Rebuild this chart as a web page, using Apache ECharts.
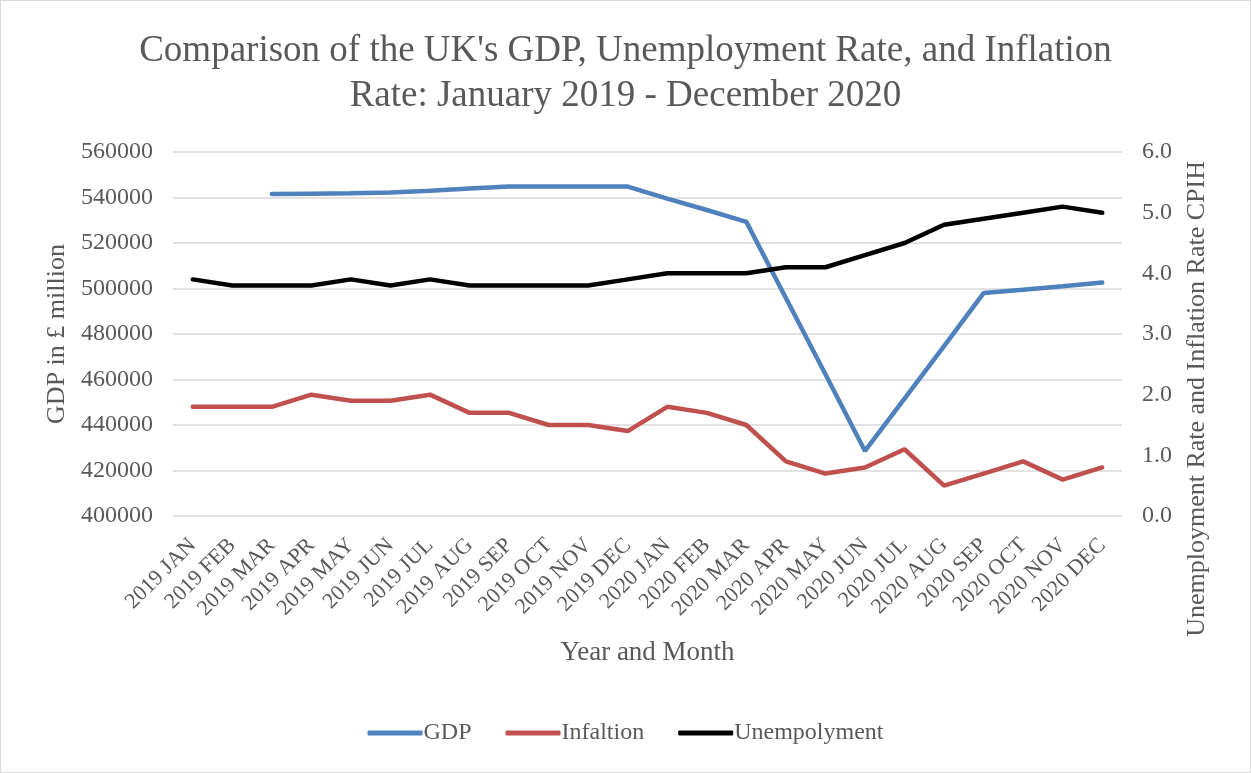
<!DOCTYPE html>
<html>
<head>
<meta charset="utf-8">
<script src="https://cdn.jsdelivr.net/npm/echarts@6/dist/echarts.min.js"></script>
<style>
html,body{margin:0;padding:0;background:#fff;}
#c{width:1251px;height:773px;box-sizing:border-box;border:1px solid #d9d9d9;}
</style>
</head>
<body>
<div id="c"></div>
<script>
const categories = ['2019 JAN','2019 FEB','2019 MAR','2019 APR','2019 MAY','2019 JUN','2019 JUL','2019 AUG','2019 SEP','2019 OCT','2019 NOV','2019 DEC',
  '2020 JAN','2020 FEB','2020 MAR','2020 APR','2020 MAY','2020 JUN','2020 JUL','2020 AUG','2020 SEP','2020 OCT','2020 NOV','2020 DEC'];
const gdp = [null,null,541500,541700,541900,542200,543000,544000,544800,544800,544800,544800,
  539500,534500,529300,495800,462300,428600,451600,474700,498000,499500,501000,502600];
const inflation = [1.8,1.8,1.8,2.0,1.9,1.9,2.0,1.7,1.7,1.5,1.5,1.4,
  1.8,1.7,1.5,0.9,0.7,0.8,1.1,0.5,0.7,0.9,0.6,0.8];
const unemployment = [3.9,3.8,3.8,3.8,3.9,3.8,3.9,3.8,3.8,3.8,3.8,3.9,
  4.0,4.0,4.0,4.1,4.1,4.3,4.5,4.8,4.9,5.0,5.1,5.0];
const titleText = "Comparison of the UK's GDP, Unemployment Rate, and Inflation\nRate: January 2019 - December 2020";
const leftAxisName = 'GDP in £ million';
const rightAxisName = 'Unemployment Rate and Inflation Rate CPIH';
const xAxisName = 'Year and Month';

const FONT = '"Liberation Serif", "Times New Roman", serif';
const TXT = '#595959';
const chart = echarts.init(document.getElementById('c'));
chart.setOption({
  animation: false,
  backgroundColor: '#fff',
  textStyle: {fontFamily: FONT},
  title: {
    text: titleText, left: 'center', top: 23,
    textStyle: {fontFamily: FONT, fontSize: 37, fontWeight: 'normal', color: TXT, lineHeight: 45}
  },
  grid: {left: 172, right: 128, top: 151, bottom: 256},
  legend: {
    top: 715, left: 'center', itemWidth: 55, itemHeight: 5, itemGap: 34, icon: 'roundRect',
    textStyle: {fontFamily: FONT, fontSize: 24, color: TXT, padding: [0,0,0,-4]},
    data: ['GDP','Infaltion','Unempolyment']
  },
  graphic: [{
    type: 'text', left: 1183, top: 160,
    rotation: Math.PI/2,
    style: {text: rightAxisName, fontFamily: FONT, fontSize: 26, fill: TXT}
  }],
  xAxis: {
    type: 'category', data: categories, boundaryGap: true,
    name: xAxisName, nameLocation: 'middle', nameGap: 123,
    nameTextStyle: {fontFamily: FONT, fontSize: 27, color: TXT},
    axisLine: {show: false}, axisTick: {show: false},
    axisLabel: {rotate: 45, interval: 0, margin: 26, fontFamily: FONT, fontSize: 22, color: TXT}
  },
  yAxis: [{
    type: 'value', min: 400000, max: 560000, interval: 20000,
    name: leftAxisName, nameLocation: 'middle', nameGap: 102,
    nameTextStyle: {fontFamily: FONT, fontSize: 26, color: TXT},
    axisLine: {show: false}, axisTick: {show: false},
    axisLabel: {margin: 20, fontFamily: FONT, fontSize: 24, color: TXT, formatter: v => String(v)},
    splitLine: {lineStyle: {color: '#d9d9d9', width: 1.5}}
  },{
    type: 'value', min: 0, max: 6, interval: 1, position: 'right',
    axisLine: {show: false}, axisTick: {show: false},
    axisLabel: {margin: 20, fontFamily: FONT, fontSize: 24, color: TXT, formatter: v => v.toFixed(1)},
    splitLine: {show: false}
  }],
  series: [{
    name: 'GDP', type: 'line', data: gdp, yAxisIndex: 0, symbol: 'none',
    lineStyle: {color: '#4f81bd', width: 4.5, cap: 'round'}, itemStyle: {color: '#4f81bd'}
  },{
    name: 'Infaltion', type: 'line', data: inflation, yAxisIndex: 1, symbol: 'none',
    lineStyle: {color: '#c0504d', width: 4.5, cap: 'round'}, itemStyle: {color: '#c0504d'}
  },{
    name: 'Unempolyment', type: 'line', data: unemployment, yAxisIndex: 1, symbol: 'none',
    lineStyle: {color: '#000000', width: 4.5, cap: 'round'}, itemStyle: {color: '#000000'}
  }]
});
</script>
</body>
</html>
